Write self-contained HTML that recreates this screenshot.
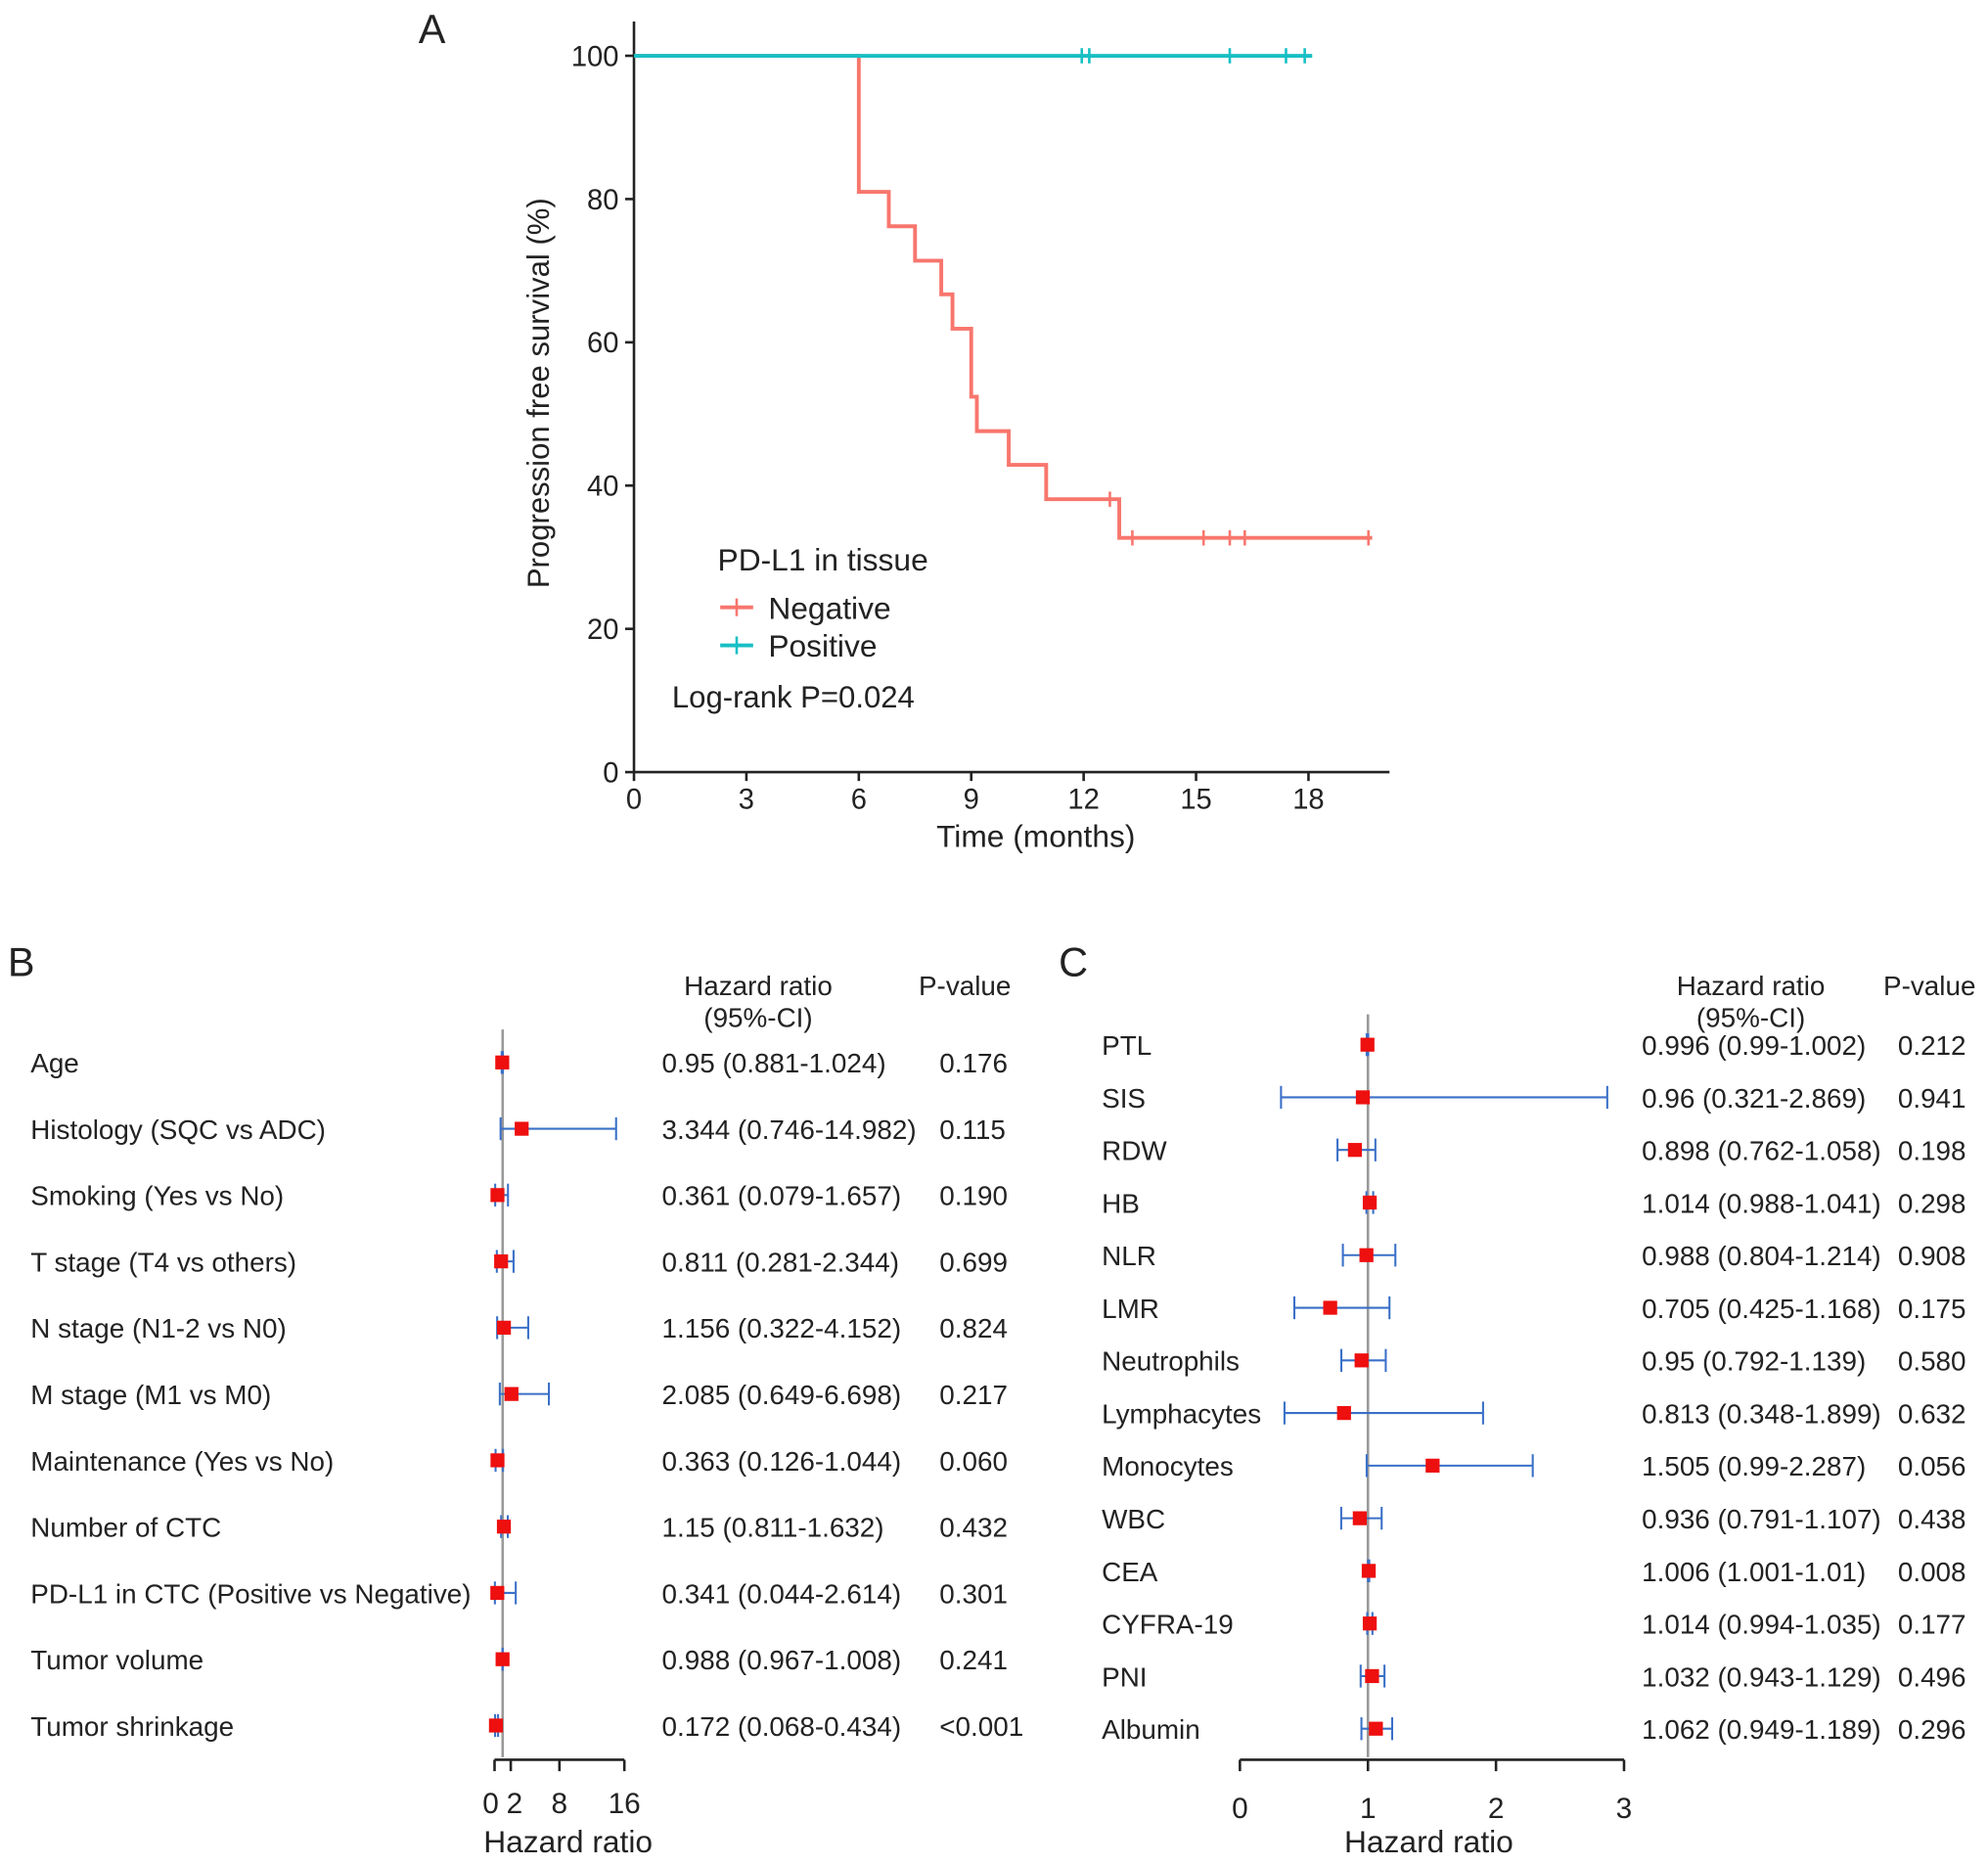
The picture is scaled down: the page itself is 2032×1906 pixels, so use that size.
<!DOCTYPE html>
<html><head><meta charset="utf-8"><style>
html,body{margin:0;padding:0;background:#fff;}
svg{display:block;}
text{font-family:"Liberation Sans",Arial,sans-serif;fill:#222;}
</style></head><body>
<svg id="fig" width="2032" height="1906" viewBox="0 0 1568 1471" xmlns="http://www.w3.org/2000/svg">
<g id="pa"></g>
<g id="pb"></g>
<g id="pc"></g>
</svg>
<script>
// Panel A data
const negTimes = [0, 6, 6.8, 7.5, 8.2, 8.5, 9.0, 9.15, 10.0, 11.0, 12.95, 19.7];
const negSurv  = [100, 81, 76.2, 71.4, 66.7, 61.9, 52.4, 47.6, 42.9, 38.1, 32.7, 32.7];
const negCensorT = [12.7, 13.3, 15.2, 15.9, 16.3, 19.6];
const negCensorS = [38.1, 32.7, 32.7, 32.7, 32.7, 32.7];
const posTimes = [0, 18.1];
const posSurv = [100, 100];
const posCensorT = [11.95, 12.15, 15.9, 17.4, 17.9];
const xTicksA = [0, 3, 6, 9, 12, 15, 18];
const yTicksA = [0, 20, 40, 60, 80, 100];

// Panel B data
const bLabels = ["Age","Histology (SQC vs ADC)","Smoking (Yes vs No)","T stage (T4 vs others)","N stage (N1-2 vs N0)","M stage (M1 vs M0)","Maintenance (Yes vs No)","Number of CTC","PD-L1 in CTC (Positive vs Negative)","Tumor volume","Tumor shrinkage"];
const bHR = [0.95,3.344,0.361,0.811,1.156,2.085,0.363,1.15,0.341,0.988,0.172];
const bLo = [0.881,0.746,0.079,0.281,0.322,0.649,0.126,0.811,0.044,0.967,0.068];
const bHi = [1.024,14.982,1.657,2.344,4.152,6.698,1.044,1.632,2.614,1.008,0.434];
const bHRText = ["0.95 (0.881-1.024)","3.344 (0.746-14.982)","0.361 (0.079-1.657)","0.811 (0.281-2.344)","1.156 (0.322-4.152)","2.085 (0.649-6.698)","0.363 (0.126-1.044)","1.15 (0.811-1.632)","0.341 (0.044-2.614)","0.988 (0.967-1.008)","0.172 (0.068-0.434)"];
const bP = ["0.176","0.115","0.190","0.699","0.824","0.217","0.060","0.432","0.301","0.241","<0.001"];
const bTicks = [0, 2, 8, 16];

// Panel C data
const cLabels = ["PTL","SIS","RDW","HB","NLR","LMR","Neutrophils","Lymphacytes","Monocytes","WBC","CEA","CYFRA-19","PNI","Albumin"];
const cHR = [0.996,0.96,0.898,1.014,0.988,0.705,0.95,0.813,1.505,0.936,1.006,1.014,1.032,1.062];
const cLo = [0.99,0.321,0.762,0.988,0.804,0.425,0.792,0.348,0.99,0.791,1.001,0.994,0.943,0.949];
const cHi = [1.002,2.869,1.058,1.041,1.214,1.168,1.139,1.899,2.287,1.107,1.01,1.035,1.129,1.189];
const cHRText = ["0.996 (0.99-1.002)","0.96 (0.321-2.869)","0.898 (0.762-1.058)","1.014 (0.988-1.041)","0.988 (0.804-1.214)","0.705 (0.425-1.168)","0.95 (0.792-1.139)","0.813 (0.348-1.899)","1.505 (0.99-2.287)","0.936 (0.791-1.107)","1.006 (1.001-1.01)","1.014 (0.994-1.035)","1.032 (0.943-1.129)","1.062 (0.949-1.189)"];
const cP = ["0.212","0.941","0.198","0.298","0.908","0.175","0.580","0.632","0.056","0.438","0.008","0.177","0.496","0.296"];
const cTicks = [0, 1, 2, 3];

const NS="http://www.w3.org/2000/svg";
function mk(parent, tag, attrs, name, txt){
  const e=document.createElementNS(NS,tag);
  for(const k in attrs) e.setAttribute(k,attrs[k]);
  
  
  if(txt!==undefined) e.textContent=txt;
  parent.appendChild(e); return e;
}

// ---- Panel A ----
const A=document.getElementById('pa');
const ax=t=>500+t*29.56, ay=s=>609-s*5.65;
mk(A,'text',{x:330,y:34,'font-size':32},'panel-a-label','A');
mk(A,'line',{x1:500,y1:17,x2:500,y2:609,stroke:'#222','stroke-width':2},'y-axis');
mk(A,'line',{x1:500,y1:609,x2:1096,y2:609,stroke:'#222','stroke-width':2},'x-axis');
xTicksA.forEach(t=>{
  mk(A,'line',{x1:ax(t),y1:609,x2:ax(t),y2:616,stroke:'#222','stroke-width':2},'x-tick');
  mk(A,'text',{x:ax(t),y:638,'font-size':22.5,'text-anchor':'middle'},'x-tick-label',String(t));
});
yTicksA.forEach(s=>{
  mk(A,'line',{x1:493,y1:ay(s),x2:500,y2:ay(s),stroke:'#222','stroke-width':2},'y-tick');
  mk(A,'text',{x:488,y:ay(s)+8,'font-size':22.5,'text-anchor':'end'},'y-tick-label',String(s));
});
mk(A,'text',{x:817,y:668,'font-size':24.5,'text-anchor':'middle'},'x-axis-title','Time (months)');
mk(A,'text',{x:433,y:310,'font-size':24,'text-anchor':'middle',transform:'rotate(-90 433 310)'},'y-axis-title','Progression free survival (%)');
function stepPath(ts,ss){let d=`M${ax(ts[0])},${ay(ss[0])}`;for(let i=1;i<ts.length;i++){d+=` H${ax(ts[i])} V${ay(ss[i])}`;}return d;}
mk(A,'path',{d:stepPath(negTimes,negSurv),fill:'none',stroke:'#f8766d','stroke-width':3},'negative-curve');
mk(A,'path',{d:stepPath(posTimes,posSurv),fill:'none',stroke:'#17bfc4','stroke-width':3},'positive-curve');
posCensorT.forEach(t=>mk(A,'line',{x1:ax(t),y1:ay(100)-6,x2:ax(t),y2:ay(100)+6,stroke:'#17bfc4','stroke-width':2},'positive-censor'));
negCensorT.forEach((t,i)=>mk(A,'line',{x1:ax(t),y1:ay(negCensorS[i])-6,x2:ax(t),y2:ay(negCensorS[i])+6,stroke:'#f8766d','stroke-width':2},'negative-censor'));
mk(A,'text',{x:566,y:450,'font-size':24.5},'legend-title','PD-L1 in tissue');
mk(A,'line',{x1:568,y1:479,x2:594,y2:479,stroke:'#f8766d','stroke-width':3},'legend-negative-line');
mk(A,'line',{x1:581,y1:472,x2:581,y2:486,stroke:'#f8766d','stroke-width':2},'legend-negative-tick');
mk(A,'text',{x:606,y:488,'font-size':24.5},'legend-negative','Negative');
mk(A,'line',{x1:568,y1:509,x2:594,y2:509,stroke:'#17bfc4','stroke-width':3},'legend-positive-line');
mk(A,'line',{x1:581,y1:502,x2:581,y2:516,stroke:'#17bfc4','stroke-width':2},'legend-positive-tick');
mk(A,'text',{x:606,y:518,'font-size':24.5},'legend-positive','Positive');
mk(A,'text',{x:530,y:558,'font-size':24},'log-rank-p','Log-rank P=0.024');

// ---- Forest helper ----
function forest(G, labels, hr, lo, hi, hrT, pT, ticks, x0, scale, y0, step, axisY, refTop, labX, hrX, pX, axisMax, fs){
  const fx=v=>x0+v*scale;
  mk(G,'line',{x1:fx(1),y1:refTop,x2:fx(1),y2:axisY-2,stroke:'#999','stroke-width':2},'reference-line');
  labels.forEach((l,i)=>{
    const y=y0+i*step;
    mk(G,'text',{x:labX,y:y+8,'font-size':fs},'row-label',l);
    mk(G,'line',{x1:fx(lo[i]),y1:y,x2:fx(hi[i]),y2:y,stroke:'#3a70c8','stroke-width':1.6},'ci-line');
    mk(G,'line',{x1:fx(lo[i]),y1:y-9,x2:fx(lo[i]),y2:y+9,stroke:'#3a70c8','stroke-width':1.6},'ci-cap-low');
    mk(G,'line',{x1:fx(hi[i]),y1:y-9,x2:fx(hi[i]),y2:y+9,stroke:'#3a70c8','stroke-width':1.6},'ci-cap-high');
    mk(G,'rect',{x:fx(hr[i])-5.5,y:y-5.5,width:11,height:11,fill:'#ee0f0f'},'hr-marker');
    mk(G,'text',{x:hrX,y:y+8,'font-size':fs},'hr-text',hrT[i]);
    mk(G,'text',{x:pX,y:y+8,'font-size':fs},'p-value',pT[i]);
  });
  mk(G,'line',{x1:fx(0),y1:axisY,x2:fx(axisMax),y2:axisY,stroke:'#222','stroke-width':2},'x-axis');
  ticks.forEach(t=>{
    mk(G,'line',{x1:fx(t),y1:axisY,x2:fx(t),y2:axisY+9,stroke:'#222','stroke-width':2},'x-tick');
  });
  return fx;
}

// ---- Panel B ----
const B=document.getElementById('pb');
mk(B,'text',{x:6,y:770,'font-size':32},'panel-b-label','B');
mk(B,'text',{x:598,y:785,'font-size':21.5,'text-anchor':'middle'},'hr-header','Hazard ratio');
mk(B,'text',{x:598,y:810,'font-size':21.5,'text-anchor':'middle'},'hr-header-ci','(95%-CI)');
mk(B,'text',{x:761,y:785,'font-size':21.5,'text-anchor':'middle'},'p-header','P-value');
const fb=forest(B,bLabels,bHR,bLo,bHi,bHRText,bP,bTicks,390,6.4,838,52.3,1388,812,24,522,741,16,21.5);
const bLabelShift=[-3,3,0,0];
bTicks.forEach((t,i)=>mk(B,'text',{x:fb(t)+bLabelShift[i],y:1430,'font-size':23,'text-anchor':'middle'},'x-tick-label',String(t)));
mk(B,'text',{x:448,y:1461,'font-size':24.5,'text-anchor':'middle'},'x-axis-title','Hazard ratio');

// ---- Panel C ----
const C=document.getElementById('pc');
mk(C,'text',{x:835,y:770,'font-size':32},'panel-c-label','C');
mk(C,'text',{x:1381,y:785,'font-size':21.5,'text-anchor':'middle'},'hr-header','Hazard ratio');
mk(C,'text',{x:1381,y:810,'font-size':21.5,'text-anchor':'middle'},'hr-header-ci','(95%-CI)');
mk(C,'text',{x:1522,y:785,'font-size':21.5,'text-anchor':'middle'},'p-header','P-value');
const fc=forest(C,cLabels,cHR,cLo,cHi,cHRText,cP,cTicks,978,101,824,41.5,1388,800,869,1295,1497,3,21.5);
cTicks.forEach(t=>mk(C,'text',{x:fc(t),y:1434,'font-size':23,'text-anchor':'middle'},'x-tick-label',String(t)));
mk(C,'text',{x:1127,y:1461,'font-size':24.5,'text-anchor':'middle'},'x-axis-title','Hazard ratio');
</script>
</body></html>
